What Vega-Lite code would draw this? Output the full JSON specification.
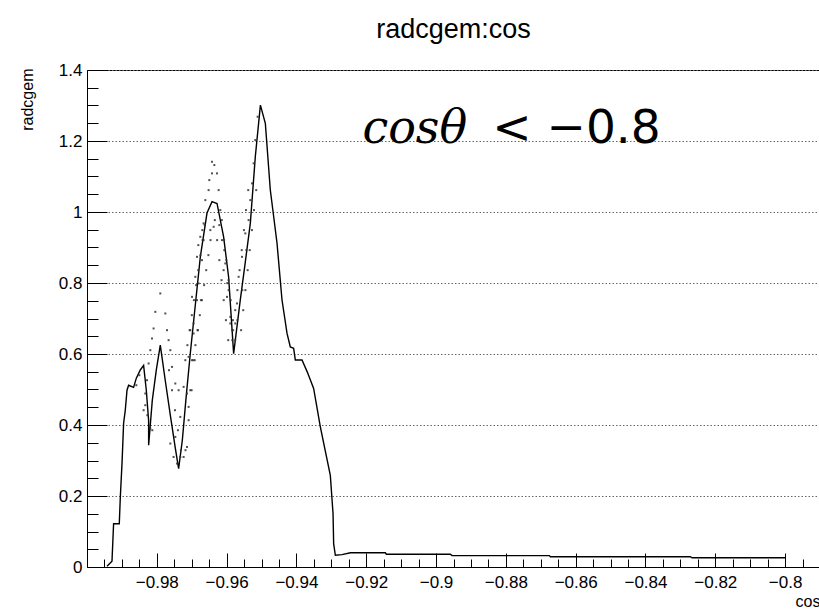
{
"$schema": "https://vega.github.io/schema/vega-lite/v6.json",
"autosize": {"type": "none"},
"padding": {"left": 87, "top": 70, "right": 0, "bottom": 42},
"width": 733,
"height": 497,
"background": "white",
"title": {"text": "radcgem:cos", "font": "Liberation Sans", "fontSize": 27, "fontWeight": "normal", "color": "#000", "baseline": "alphabetic", "offset": -4, "frame": "group", "anchor": "middle"},
"config": {
  "view": {"stroke": "#000", "strokeWidth": 1},
  "axis": {"domainColor": "#000", "domainWidth": 1, "tickColor": "#000", "tickWidth": 1, "labelColor": "#000", "labelFont": "Liberation Sans", "labelFontSize": 17, "titleFont": "Liberation Sans", "titleFontSize": 16, "titleFontWeight": "normal", "titleColor": "#000", "labelFlush": false, "labelOverlap": false, "labelBound": false}
},
"resolve": {"axis": {"x": "independent", "y": "independent"}},
"datasets": {
  "main": [
    {"i":1,"x":-0.99427,"y":0.002},{"i":2,"x":-0.99284,"y":0.016},{"i":3,"x":-0.99238,"y":0.122},{"i":4,"x":-0.99075,"y":0.122},{"i":5,"x":-0.99046,"y":0.196},{"i":6,"x":-0.98997,"y":0.292},{"i":7,"x":-0.98951,"y":0.405},{"i":8,"x":-0.98903,"y":0.442},{"i":9,"x":-0.98854,"y":0.498},{"i":10,"x":-0.98808,"y":0.512},
    {"i":11,"x":-0.98665,"y":0.506},{"i":12,"x":-0.98587,"y":0.532},{"i":13,"x":-0.98473,"y":0.555},{"i":14,"x":-0.98378,"y":0.568},{"i":15,"x":-0.98301,"y":0.498},{"i":16,"x":-0.98235,"y":0.413},{"i":17,"x":-0.98234,"y":0.343},{"i":18,"x":-0.98129,"y":0.470},{"i":19,"x":-0.98014,"y":0.555},{"i":20,"x":-0.979,"y":0.625},
    {"i":21,"x":-0.97759,"y":0.526},{"i":22,"x":-0.97613,"y":0.428},{"i":23,"x":-0.9747,"y":0.335},{"i":24,"x":-0.97375,"y":0.277},{"i":25,"x":-0.97269,"y":0.357},{"i":26,"x":-0.97155,"y":0.484},{"i":27,"x":-0.9704,"y":0.602},{"i":28,"x":-0.96897,"y":0.738},{"i":29,"x":-0.96754,"y":0.873},{"i":30,"x":-0.96562,"y":0.997},
    {"i":31,"x":-0.96418,"y":1.029},{"i":32,"x":-0.96275,"y":1.024},{"i":33,"x":-0.96086,"y":0.93},{"i":34,"x":-0.95943,"y":0.817},{"i":35,"x":-0.95799,"y":0.601},{"i":36,"x":-0.95609,"y":0.752},{"i":37,"x":-0.95465,"y":0.859},{"i":38,"x":-0.95321,"y":0.968},{"i":39,"x":-0.95178,"y":1.156},{"i":40,"x":-0.95032,"y":1.301},
    {"i":41,"x":-0.94891,"y":1.25},{"i":42,"x":-0.94748,"y":1.062},{"i":43,"x":-0.94556,"y":0.912},{"i":44,"x":-0.94413,"y":0.752},{"i":45,"x":-0.94269,"y":0.658},{"i":46,"x":-0.94175,"y":0.62},{"i":47,"x":-0.9408,"y":0.616},{"i":48,"x":-0.94032,"y":0.583},{"i":49,"x":-0.9384,"y":0.583},{"i":50,"x":-0.93688,"y":0.549},
    {"i":51,"x":-0.93507,"y":0.503},{"i":52,"x":-0.93315,"y":0.395},{"i":53,"x":-0.93029,"y":0.258},{"i":54,"x":-0.92951,"y":0.15},{"i":55,"x":-0.92934,"y":0.066},{"i":56,"x":-0.92885,"y":0.033},{"i":57,"x":-0.92693,"y":0.035},{"i":58,"x":-0.92455,"y":0.04},{"i":59,"x":-0.91453,"y":0.04},{"i":60,"x":-0.91424,"y":0.036},
    {"i":61,"x":-0.8959,"y":0.036},{"i":62,"x":-0.89542,"y":0.032},{"i":63,"x":-0.86754,"y":0.032},{"i":64,"x":-0.86725,"y":0.029},{"i":65,"x":-0.82714,"y":0.029},{"i":66,"x":-0.82665,"y":0.026},{"i":67,"x":-0.79991,"y":0.026}
  ],
  "dots": [
    {"x":-0.979,"y":0.7706},{"x":-0.98043,"y":0.7187},{"x":-0.97756,"y":0.7142},{"x":-0.98092,"y":0.6719},{"x":-0.97708,"y":0.6671},{"x":-0.98138,"y":0.6437},{"x":-0.97662,"y":0.639},{"x":-0.98186,"y":0.6108},{"x":-0.97613,"y":0.6108},{"x":-0.98235,"y":0.5733},
    {"x":-0.97564,"y":0.5637},{"x":-0.98281,"y":0.5262},{"x":-0.9747,"y":0.5169},{"x":-0.9833,"y":0.4887},{"x":-0.97375,"y":0.498},{"x":-0.98378,"y":0.4417},{"x":-0.97232,"y":0.5073},{"x":-0.97135,"y":0.4887},{"x":-0.97327,"y":0.4228},{"x":-0.9747,"y":0.3664},
    {"x":-0.97089,"y":0.451},{"x":-0.9704,"y":0.498},{"x":-0.96991,"y":0.5826},{"x":-0.96946,"y":0.6578},{"x":-0.96848,"y":0.7517},{"x":-0.96802,"y":0.7988},{"x":-0.96705,"y":0.8644},{"x":-0.97613,"y":0.3478},{"x":-0.97519,"y":0.31},{"x":-0.97232,"y":0.31},
    {"x":-0.97135,"y":0.3382},{"x":-0.97421,"y":0.2914},{"x":-0.97327,"y":0.31},{"x":-0.98186,"y":0.3901},{"x":-0.98272,"y":0.4276},{"x":-0.98129,"y":0.3853},{"x":-0.9833,"y":0.4558},{"x":-0.98501,"y":0.5403},{"x":-0.98587,"y":0.5121},{"x":-0.9704,"y":0.6671},
    {"x":-0.96991,"y":0.761},{"x":-0.96897,"y":0.8174},{"x":-0.96848,"y":0.8737},{"x":-0.96754,"y":0.9301},{"x":-0.96659,"y":0.9679},{"x":-0.9661,"y":1.0335},{"x":-0.96516,"y":1.0617},{"x":-0.96418,"y":1.1088},{"x":-0.96418,"y":1.1415},{"x":-0.96275,"y":1.1088},
    {"x":-0.96229,"y":1.0617},{"x":-0.96181,"y":1.0054},{"x":-0.96132,"y":0.9208},{"x":-0.96037,"y":0.8551},{"x":-0.95943,"y":0.7799},{"x":-0.95894,"y":0.686},{"x":-0.95845,"y":0.6671},{"x":-0.95751,"y":0.686},{"x":-0.95702,"y":0.7424},{"x":-0.95656,"y":0.8174},
    {"x":-0.95559,"y":0.8737},{"x":-0.95464,"y":0.9397},{"x":-0.9537,"y":0.9772},{"x":-0.95321,"y":1.0335},{"x":-0.95272,"y":1.0806},{"x":-0.95226,"y":1.137},{"x":-0.95178,"y":1.2026},{"x":-0.95112,"y":1.2683},{"x":-0.96659,"y":0.9208},{"x":-0.96467,"y":0.949},
    {"x":-0.96372,"y":0.9583},{"x":-0.96086,"y":0.8362},{"x":-0.95989,"y":0.761},{"x":-0.95894,"y":0.7046},{"x":-0.96946,"y":0.686},{"x":-0.97089,"y":0.5919},{"x":-0.96352,"y":1.1322},{"x":-0.96496,"y":1.0899},{"x":-0.96811,"y":0.9067},{"x":-0.96696,"y":0.949},
    {"x":-0.96209,"y":0.9631},{"x":-0.96066,"y":0.8926},{"x":-0.9598,"y":0.7996},{"x":-0.95837,"y":0.639},{"x":-0.95693,"y":0.6953},{"x":-0.9555,"y":0.7799},{"x":-0.95436,"y":0.8926},
    {"x":-0.97183,"y":0.5826},{"x":-0.97123,"y":0.6249},{"x":-0.9706,"y":0.6671},{"x":-0.96997,"y":0.7094},{"x":-0.96937,"y":0.7517},{"x":-0.96874,"y":0.794},{"x":-0.96814,"y":0.8362},{"x":-0.96751,"y":0.8785},{"x":-0.96691,"y":0.9208},{"x":-0.96628,"y":0.9631},
    {"x":-0.96954,"y":0.5826},{"x":-0.96894,"y":0.6249},{"x":-0.96831,"y":0.6671},{"x":-0.96768,"y":0.7094},{"x":-0.96708,"y":0.7517},{"x":-0.96645,"y":0.794},{"x":-0.96585,"y":0.8362},{"x":-0.96522,"y":0.8785},{"x":-0.96461,"y":0.9208},
    {"x":-0.96338,"y":0.9772},{"x":-0.96138,"y":0.9772},{"x":-0.96272,"y":0.9208},{"x":-0.96072,"y":0.9208},{"x":-0.96209,"y":0.8644},{"x":-0.96009,"y":0.8644},{"x":-0.96146,"y":0.808},{"x":-0.95946,"y":0.808},{"x":-0.96083,"y":0.7517},{"x":-0.95883,"y":0.7517},
    {"x":-0.9602,"y":0.6953},{"x":-0.95819,"y":0.6953},{"x":-0.95954,"y":0.639},{"x":-0.95754,"y":0.639},
    {"x":-0.95585,"y":0.6671},{"x":-0.95524,"y":0.7235},{"x":-0.95461,"y":0.7799},{"x":-0.95398,"y":0.8362},{"x":-0.95338,"y":0.8926},{"x":-0.95275,"y":0.949},{"x":-0.95215,"y":1.0054},{"x":-0.95152,"y":1.0617},
    {"x":-0.95814,"y":0.6671},{"x":-0.95754,"y":0.7235},{"x":-0.95691,"y":0.7799},{"x":-0.95628,"y":0.8362},{"x":-0.95567,"y":0.8926},{"x":-0.95504,"y":0.949},{"x":-0.95444,"y":1.0054},{"x":-0.95381,"y":1.0617},
    {"x":-0.9765,"y":0.5544},{"x":-0.97564,"y":0.498},{"x":-0.97479,"y":0.4417},{"x":-0.97395,"y":0.3853},{"x":-0.97309,"y":0.329},
    {"x":-0.97178,"y":0.329},{"x":-0.97089,"y":0.4135},{"x":-0.97003,"y":0.498},{"x":-0.96914,"y":0.5826},{"x":-0.96825,"y":0.6671},{"x":-0.96736,"y":0.7517}
  ],
  "noteA": [{"x": -0.9211, "y": 1.194, "label": "cosθ"}],
  "noteB": [{"x": -0.8839, "y": 1.194, "label": "< −0.8"}]
},
"layer": [
  {
    "data": {"name": "main"},
    "mark": {"type": "line", "color": "#000", "strokeWidth": 1.4},
    "encoding": {
      "x": {"field": "x", "type": "quantitative", "scale": {"domain": [-1.0, -0.79], "nice": false, "zero": false},
        "axis": {
          "orient": "bottom",
          "values": [-0.98,-0.96,-0.94,-0.92,-0.9,-0.88,-0.86,-0.84,-0.82,-0.8],
          "format": ".2~f",
          "tickSize": -14,
          "labelPadding": 21,
          "grid": false,
          "title": "cos", "titleAlign": "right", "titleAnchor": "end", "titleX": 733, "titleY": 39, "titleBaseline": "alphabetic"
        }},
      "y": {"field": "y", "type": "quantitative", "scale": {"domain": [0, 1.4], "nice": false, "zero": false},
        "axis": {
          "orient": "left",
          "values": [0,0.2,0.4,0.6,0.8,1,1.2,1.4],
          "format": ".1~f",
          "tickSize": -20,
          "labelPadding": 25,
          "grid": true,
          "gridColor": "#666",
          "gridDash": [1.5, 2],
          "gridWidth": 1,
          "title": "radcgem", "titleAngle": 270, "titleAlign": "right", "titleAnchor": "end", "titleX": -55, "titleY": -2, "titleBaseline": "alphabetic"
        }},
      "order": {"field": "i", "type": "quantitative"}
    }
  },
  {
    "data": {"name": "dots"},
    "mark": {"type": "square", "size": 4, "color": "#333", "opacity": 0.85},
    "encoding": {
      "x": {"field": "x", "type": "quantitative", "scale": {"domain": [-1.0, -0.79], "nice": false, "zero": false},
        "axis": {
          "orient": "bottom",
          "values": [-0.995,-0.99,-0.985,-0.975,-0.97,-0.965,-0.955,-0.95,-0.945,-0.935,-0.93,-0.925,-0.915,-0.91,-0.905,-0.895,-0.89,-0.885,-0.875,-0.87,-0.865,-0.855,-0.85,-0.845,-0.835,-0.83,-0.825,-0.815,-0.81,-0.805,-0.795],
          "labels": false, "domain": false, "grid": false, "title": null,
          "tickSize": -8
        }},
      "y": {"field": "y", "type": "quantitative", "scale": {"domain": [0, 1.4], "nice": false, "zero": false},
        "axis": {
          "orient": "left",
          "values": [0.05,0.1,0.15,0.25,0.3,0.35,0.45,0.5,0.55,0.65,0.7,0.75,0.85,0.9,0.95,1.05,1.1,1.15,1.25,1.3,1.35],
          "labels": false, "domain": false, "grid": false, "title": null,
          "tickSize": -11
        }}
    }
  },
  {
    "data": {"name": "noteA"},
    "mark": {"type": "text", "align": "left", "baseline": "alphabetic", "font": "DejaVu Serif", "fontStyle": "italic", "fontSize": 46, "color": "#000"},
    "encoding": {
      "x": {"field": "x", "type": "quantitative", "axis": null, "scale": {"domain": [-1.0, -0.79], "nice": false, "zero": false}},
      "y": {"field": "y", "type": "quantitative", "axis": null, "scale": {"domain": [0, 1.4], "nice": false, "zero": false}},
      "text": {"field": "label"}
    }
  },
  {
    "data": {"name": "noteB"},
    "mark": {"type": "text", "align": "left", "baseline": "alphabetic", "font": "DejaVu Sans", "fontSize": 47, "color": "#000"},
    "encoding": {
      "x": {"field": "x", "type": "quantitative", "axis": null, "scale": {"domain": [-1.0, -0.79], "nice": false, "zero": false}},
      "y": {"field": "y", "type": "quantitative", "axis": null, "scale": {"domain": [0, 1.4], "nice": false, "zero": false}},
      "text": {"field": "label"}
    }
  }
]
}
